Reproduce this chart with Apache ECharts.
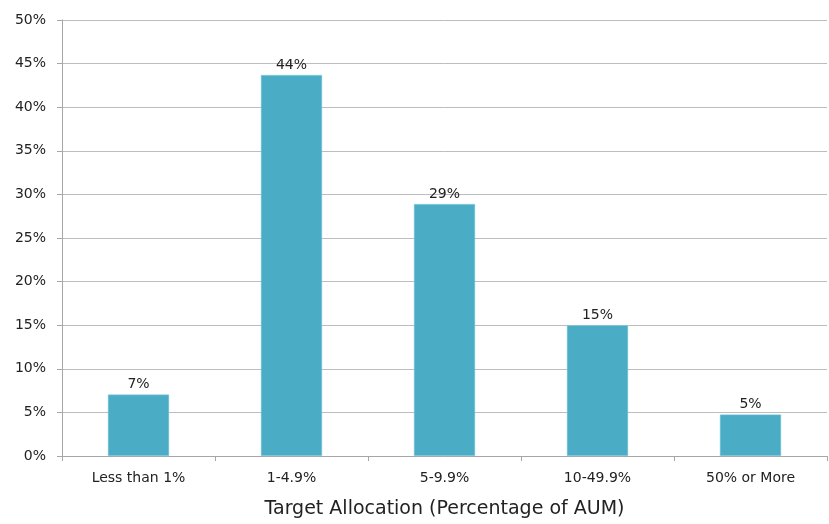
<!DOCTYPE html>
<html>
<head>
<meta charset="utf-8">
<script src="https://cdn.jsdelivr.net/npm/echarts@6/dist/echarts.min.js"></script>
<style>
html,body{margin:0;padding:0;background:#fff;overflow:hidden;}
#chart{width:829px;height:524px;}
</style>
</head>
<body>
<div id="chart"></div>
<script>
const categories = ["Less than 1%", "1-4.9%", "5-9.9%", "10-49.9%", "50% or More"];
const values = [7.05, 43.7, 28.9, 15.0, 4.75];
const yTicks = { min: 0, max: 50, interval: 5 };
const xAxisTitle = "Target Allocation (Percentage of AUM)";

const FONT = "'DejaVu Sans', sans-serif";
const chart = echarts.init(document.getElementById('chart'));
chart.setOption({
  animation: false,
  grid: { left: 62, right: 2, top: 20, bottom: 62, containLabel: false },
  xAxis: {
    type: 'category',
    data: categories,
    name: xAxisTitle,
    nameLocation: 'middle',
    nameGap: 44,
    nameTextStyle: { fontFamily: FONT, fontSize: 19, color: '#222' },
    axisLine: { lineStyle: { color: '#a6a6a6', width: 1 } },
    axisTick: { show: true, length: 5, alignWithLabel: false, lineStyle: { color: '#a6a6a6' } },
    axisLabel: { fontFamily: FONT, fontSize: 14, color: '#222', margin: 15 }
  },
  yAxis: {
    type: 'value',
    min: yTicks.min, max: yTicks.max, interval: yTicks.interval,
    axisLine: { show: true, lineStyle: { color: '#a6a6a6', width: 1 } },
    axisTick: { show: true, length: 5, lineStyle: { color: '#a6a6a6' } },
    splitLine: { show: true, lineStyle: { color: '#bdbdbd', width: 1 } },
    axisLabel: { fontFamily: FONT, fontSize: 14, color: '#222', margin: 16, formatter: v => v + '%' }
  },
  series: [{
    type: 'bar',
    data: values,
    barWidth: '40%',
    itemStyle: { color: '#4BACC6', borderColor: '#8fd0e0', borderWidth: 0.5 },
    label: {
      show: true, position: 'top', distance: 3,
      fontFamily: FONT, fontSize: 14, color: '#222',
      formatter: p => Math.round(p.value) + '%'
    }
  }]
});
</script>
</body>
</html>
